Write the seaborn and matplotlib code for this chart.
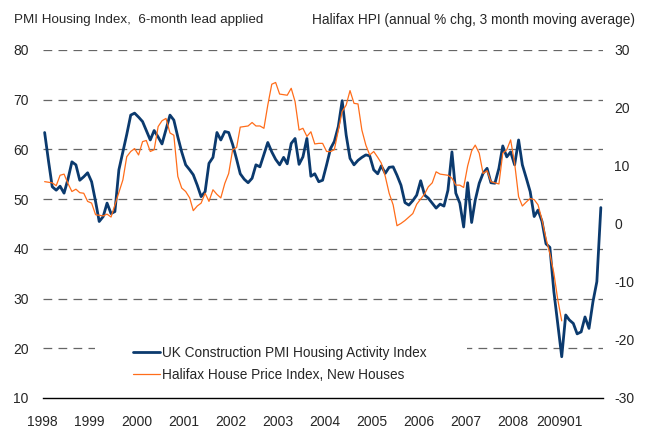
import pandas as pd
import numpy as np
import matplotlib
matplotlib.use("Agg")
import matplotlib.pyplot as plt
import matplotlib.dates as mdates
from matplotlib.lines import Line2D
from matplotlib.patches import Rectangle
import seaborn as sns

# -------- data (monthly) --------

first_month = "1998-01"

# UK Construction PMI housing activity (left axis), 6-month lead applied
pmi_housing = [
    63.4, 57.5, 52.5, 51.8, 52.6, 51.2, 54.0, 57.5, 56.9, 53.8, 54.5, 55.3,
    53.5, 49.5, 45.5, 46.5, 49.2, 47.1, 47.5, 55.9, 59.5, 63.0, 66.9, 67.3,
    66.5, 65.6, 63.8, 61.9, 63.8, 62.5, 61.1, 64.0, 66.9, 65.9, 62.5, 59.5,
    56.9, 55.9, 54.9, 52.8, 50.5, 51.5, 57.2, 58.4, 63.4, 61.9, 63.6, 63.4,
    61.0, 58.0, 55.1, 54.0, 53.3, 54.2, 56.9, 56.5, 59.0, 61.4, 59.5, 58.0,
    56.9, 58.4, 57.1, 61.2, 62.2, 57.0, 58.5, 62.2, 54.6, 55.1, 53.5, 53.8,
    56.9, 60.2, 61.6, 64.6, 69.8, 62.9, 58.2, 56.9, 57.8, 58.4, 58.9, 58.7,
    55.9, 55.1, 56.7, 55.2, 56.4, 56.5, 54.8, 52.8, 49.3, 48.8, 49.7, 50.8,
    53.7, 50.8, 50.2, 49.2, 48.2, 49.0, 48.6, 51.8, 59.5, 51.2, 49.2, 44.4,
    53.3, 45.3, 49.8, 53.2, 55.2, 56.2, 53.3, 53.2, 56.2, 60.7, 58.5, 59.5,
    56.9, 61.9, 56.9, 54.2, 51.5, 46.5, 47.8, 45.5, 41.0, 40.3, 31.4, 25.0,
    18.3, 26.7, 25.7, 25.0, 22.9, 23.3, 26.3, 24.0, 29.4, 33.4, 48.3,
]

# Halifax HPI new houses, annual % chg, 3mma (right axis)
halifax_new = [
    7.3, 7.2, 7.1, 6.6, 8.4, 8.6, 7.0, 5.6, 6.0, 5.4, 5.3, 3.9,
    3.6, 1.6, 1.5, 1.4, 1.7, 1.2, 3.3, 5.5, 7.6, 11.6, 12.5, 13.0,
    11.9, 14.2, 14.4, 12.5, 12.8, 16.8, 17.8, 18.2, 15.7, 15.3, 8.2, 6.2,
    5.6, 4.5, 2.3, 3.1, 3.6, 5.3, 3.9, 5.9, 5.1, 4.5, 7.0, 8.7,
    12.8, 13.2, 16.7, 16.8, 16.9, 17.5, 16.9, 16.9, 16.5, 20.5, 24.1, 24.4,
    22.4, 22.3, 22.2, 23.4, 21.1, 16.2, 16.5, 15.1, 15.9, 13.8, 13.9, 13.9,
    12.5, 12.5, 12.8, 16.2, 19.4, 20.5, 23.0, 20.8, 20.7, 16.2, 13.6, 11.9,
    12.5, 11.5, 10.5, 8.2, 5.3, 3.3, -0.3, 0.1, 0.6, 1.2, 1.8, 3.4,
    4.3, 5.2, 6.4, 7.1, 9.0, 8.6, 8.5, 8.4, 7.9, 6.7, 6.7, 6.3,
    10.0, 12.6, 13.6, 12.2, 8.7, 9.2, 7.3, 7.1, 6.9, 12.2, 12.8, 14.5,
    10.5, 4.7, 3.1, 3.8, 4.4, 4.2, 3.3, 0.7, -2.5, -5.1, -8.5, -13.0,
    -16.7,
]

year_ticks = [str(y) for y in range(1998, 2010)]
year_labels = ["1998", "1999", "2000", "2001", "2002", "2003",
               "2004", "2005", "2006", "2007", "2008", "200901"]
left_ticks = [10, 20, 30, 40, 50, 60, 70, 80]
right_ticks = [-30, -20, -10, 0, 10, 20, 30]

pmi_label = "UK Construction PMI Housing Activity Index"
hpi_label = "Halifax House Price Index, New Houses"

blue = "#0B3A6E"
orange = "#FF6D1A"

# -------- frames --------

pmi_df = pd.DataFrame({
    "date": pd.date_range(first_month, periods=len(pmi_housing), freq="MS") + pd.Timedelta(days=15),
    "value": pmi_housing,
})

hpi_df = pd.DataFrame({
    "date": pd.date_range(first_month, periods=len(halifax_new), freq="MS") + pd.Timedelta(days=15),
    "value": halifax_new,
})

# -------- plot --------

sns.set_style("white")
plt.rcParams["font.family"] = ["Liberation Sans", "DejaVu Sans"]
plt.rcParams["axes.unicode_minus"] = False

fig = plt.figure(figsize=(6.48, 4.28), dpi=100)
ax = fig.add_axes([0.0659, 0.0701, 0.8647, 0.8131])
ax2 = ax.twinx()

sns.lineplot(data=pmi_df, x="date", y="value", ax=ax, color=blue, linewidth=2.0, zorder=3)
sns.lineplot(data=hpi_df, x="date", y="value", ax=ax2, color=orange, linewidth=0.9, zorder=3)

ax.set_xlim(pd.Timestamp("1998-01-01"), pd.Timestamp("2009-12-03"))
ax.set_ylim(10, 80)
ax2.set_ylim(-30, 30)

# gridlines on the left scale
for v in left_ticks[1:]:
    ax.axhline(v, color="#666666", linewidth=0.9, linestyle=(0, (7, 5)), zorder=1)

ax.set_yticks(left_ticks)
ax.set_yticklabels([str(v) for v in left_ticks])
ax2.set_yticks(right_ticks)
ax2.set_yticklabels([str(v) for v in right_ticks])

ax.set_xticks([pd.Timestamp(t + "-01-01") for t in year_ticks])
ax.set_xticklabels(year_labels)

ax.tick_params(axis="x", direction="out", length=4.5, width=1, color="black",
               labelsize=10, pad=8)
ax.tick_params(axis="y", length=0, labelsize=10, pad=10)
ax2.tick_params(axis="y", length=0, labelsize=10, pad=8)

for a in (ax, ax2):
    a.set_xlabel("")
    a.set_ylabel("")
    for s in ("left", "right", "top"):
        a.spines[s].set_visible(False)
ax2.spines["bottom"].set_visible(False)
ax.spines["bottom"].set_color("black")
ax.spines["bottom"].set_linewidth(1.0)
ax.spines["bottom"].set_zorder(5)

# white box behind the legend (hides the 20 gridline there)
ax.add_patch(Rectangle((0.0933, 0.03), 0.664, 0.155, transform=ax.transAxes,
                       facecolor="white", edgecolor="none", zorder=2))

handles = [
    Line2D([], [], color=blue, linewidth=2.0),
    Line2D([], [], color=orange, linewidth=0.9),
]
leg = ax2.legend(handles, [pmi_label, hpi_label], loc="upper left",
                 bbox_to_anchor=(0.1487, 0.17), frameon=False, fontsize=9.8,
                 borderpad=0, handlelength=2.0, handletextpad=0.15,
                 labelspacing=0.6)

fig.text(14 / 648, 1 - 20 / 428, "PMI Housing Index,  6-month lead applied",
         ha="left", va="center", fontsize=9.6)
fig.text(635 / 648, 1 - 20 / 428, "Halifax HPI (annual % chg, 3 month moving average)",
         ha="right", va="center", fontsize=9.8)

fig.savefig("out.png", dpi=100)
